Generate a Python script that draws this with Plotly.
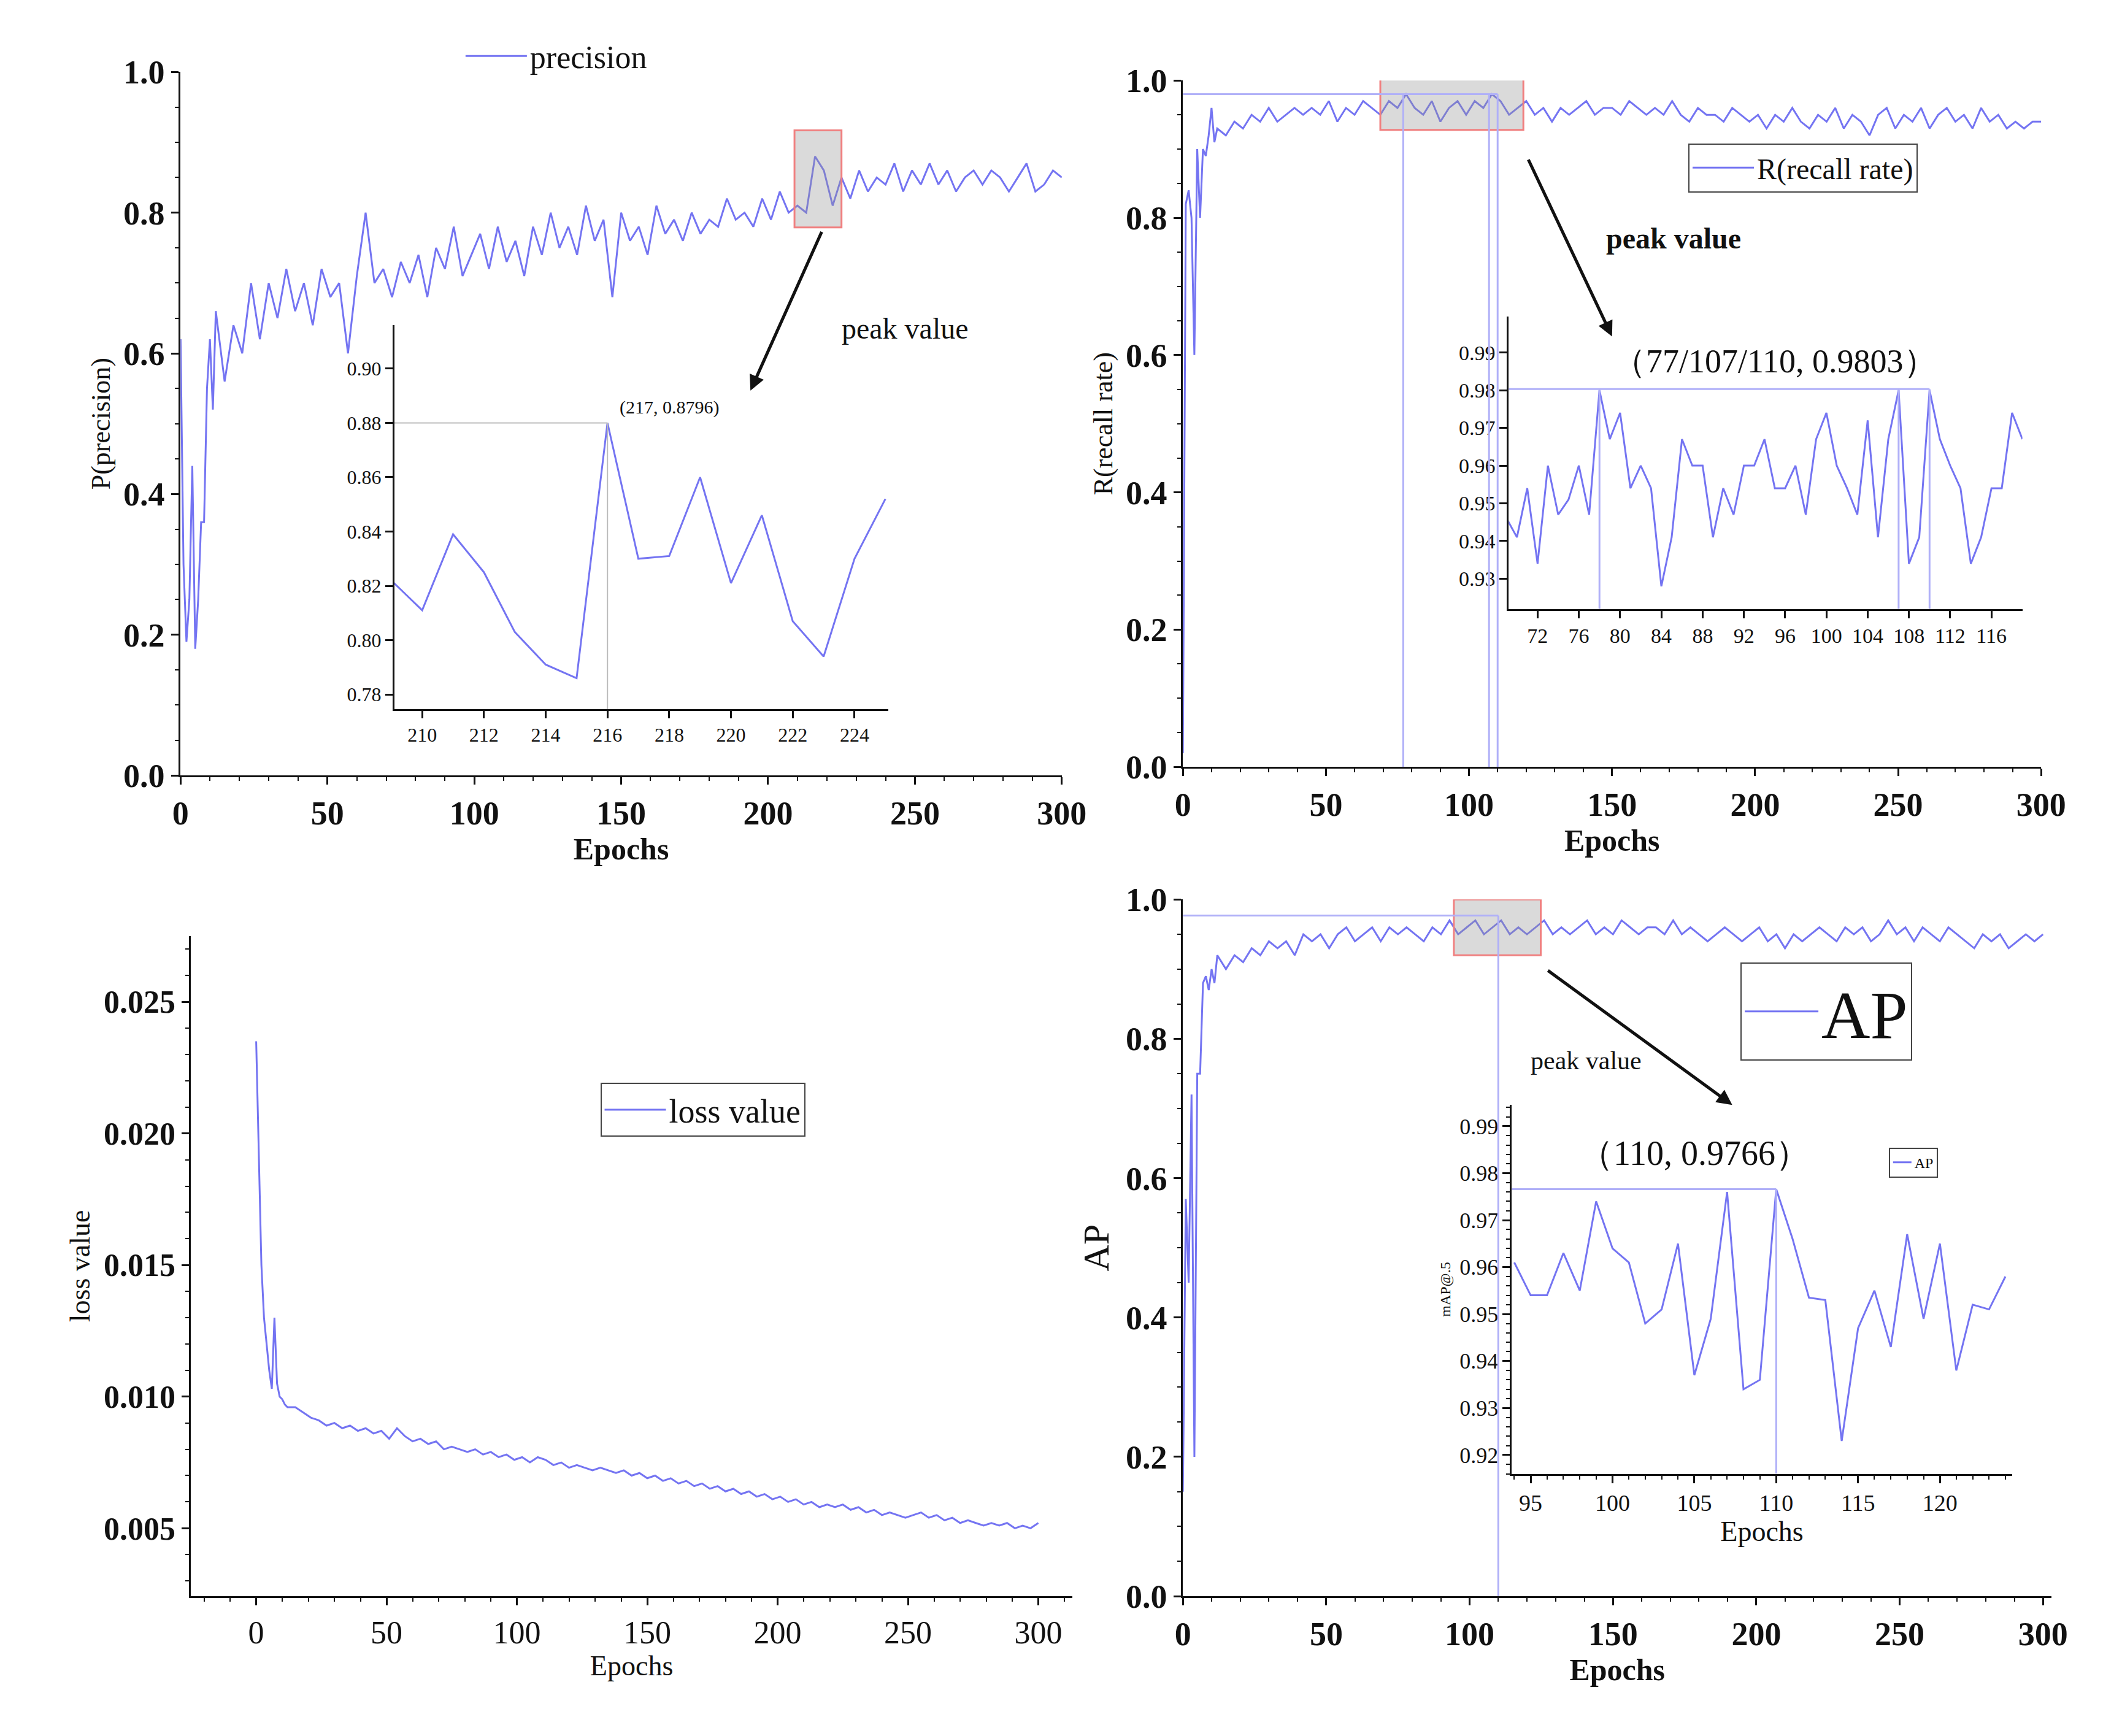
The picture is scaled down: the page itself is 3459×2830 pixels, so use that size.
import plotly.graph_objects as go

# epochs: dense at the start, then every 3 epochs
epochs = list(range(0, 13)) + list(range(15, 301, 3))

precision = [0.62, 0.30, 0.19, 0.25, 0.44, 0.18, 0.25, 0.36, 0.36, 0.55, 0.62, 0.52, 0.66,
             0.56, 0.64, 0.60, 0.70, 0.62, 0.70, 0.65, 0.72, 0.66, 0.70,
             0.64, 0.72, 0.68, 0.70, 0.60, 0.71, 0.80, 0.70, 0.72, 0.68,
             0.73, 0.70, 0.74, 0.68, 0.75, 0.72, 0.78, 0.71, 0.74, 0.77,
             0.72, 0.78, 0.73, 0.76, 0.71, 0.78, 0.74, 0.80, 0.75, 0.78,
             0.74, 0.81, 0.76, 0.79, 0.68, 0.80, 0.76, 0.78, 0.74, 0.81,
             0.77, 0.79, 0.76, 0.80, 0.77, 0.79, 0.78, 0.82, 0.79, 0.80,
             0.78, 0.82, 0.79, 0.83, 0.80, 0.81, 0.80, 0.88, 0.86, 0.81,
             0.85, 0.82, 0.86, 0.83, 0.85, 0.84, 0.87, 0.83, 0.86, 0.84,
             0.87, 0.84, 0.86, 0.83, 0.85, 0.86, 0.84, 0.86, 0.85, 0.83,
             0.85, 0.87, 0.83, 0.84, 0.86, 0.85]

recall = [0.02, 0.82, 0.84, 0.80, 0.60, 0.90, 0.80, 0.90, 0.89, 0.92, 0.96, 0.91, 0.93,
          0.92, 0.94, 0.93, 0.95, 0.94, 0.96, 0.94, 0.95, 0.96, 0.95,
          0.96, 0.95, 0.97, 0.94, 0.96, 0.95, 0.97, 0.96, 0.95, 0.97,
          0.96, 0.98, 0.96, 0.95, 0.97, 0.94, 0.96, 0.97, 0.95, 0.97,
          0.96, 0.98, 0.97, 0.95, 0.96, 0.97, 0.95, 0.96, 0.94, 0.96,
          0.95, 0.96, 0.97, 0.95, 0.96, 0.96, 0.95, 0.97, 0.96, 0.95,
          0.96, 0.95, 0.97, 0.95, 0.94, 0.96, 0.95, 0.95, 0.94, 0.96,
          0.95, 0.94, 0.95, 0.93, 0.95, 0.94, 0.96, 0.94, 0.93, 0.95,
          0.94, 0.96, 0.93, 0.95, 0.94, 0.92, 0.95, 0.96, 0.93, 0.95,
          0.94, 0.96, 0.93, 0.95, 0.96, 0.94, 0.95, 0.93, 0.96, 0.94,
          0.95, 0.93, 0.94, 0.93, 0.94, 0.94]

loss = [0.0235, 0.0190, 0.0150, 0.0130, 0.0120, 0.0110, 0.0103, 0.0130, 0.0105, 0.0100, 0.0099, 0.0097, 0.0096,
        0.0096, 0.0094, 0.0092, 0.0091, 0.0089, 0.0090, 0.0088, 0.0089, 0.0087, 0.0088,
        0.0086, 0.0087, 0.0084, 0.0088, 0.0085, 0.0083, 0.0084, 0.0082, 0.0083, 0.0080,
        0.0081, 0.0080, 0.0079, 0.0080, 0.0078, 0.0079, 0.0077, 0.0078, 0.0076, 0.0077,
        0.0075, 0.0077, 0.0076, 0.0074, 0.0075, 0.0073, 0.0074, 0.0073, 0.0072, 0.0073,
        0.0072, 0.0071, 0.0072, 0.0070, 0.0071, 0.0069, 0.0070, 0.0068, 0.0069, 0.0067,
        0.0068, 0.0066, 0.0067, 0.0065, 0.0066, 0.0064, 0.0065, 0.0063, 0.0064, 0.0062,
        0.0063, 0.0061, 0.0062, 0.0060, 0.0061, 0.0059, 0.0060, 0.0058, 0.0059, 0.0058,
        0.0059, 0.0057, 0.0058, 0.0056, 0.0057, 0.0055, 0.0056, 0.0055, 0.0054, 0.0055,
        0.0056, 0.0054, 0.0055, 0.0053, 0.0054, 0.0052, 0.0053, 0.0052, 0.0051, 0.0052,
        0.0051, 0.0052, 0.0050, 0.0051, 0.0050, 0.0052]

ap = [0.15, 0.57, 0.45, 0.72, 0.20, 0.75, 0.75, 0.88, 0.89, 0.87, 0.90, 0.88, 0.92,
      0.90, 0.92, 0.91, 0.93, 0.92, 0.94, 0.93, 0.94, 0.92, 0.95,
      0.94, 0.95, 0.93, 0.95, 0.96, 0.94, 0.95, 0.96, 0.94, 0.96,
      0.95, 0.96, 0.95, 0.94, 0.96, 0.95, 0.97, 0.95, 0.96, 0.97,
      0.95, 0.96, 0.97, 0.95, 0.96, 0.95, 0.96, 0.97, 0.95, 0.96,
      0.95, 0.96, 0.97, 0.95, 0.96, 0.95, 0.97, 0.96, 0.95, 0.96,
      0.96, 0.95, 0.97, 0.95, 0.96, 0.95, 0.94, 0.95, 0.96, 0.95,
      0.94, 0.95, 0.96, 0.94, 0.95, 0.93, 0.95, 0.94, 0.95, 0.96,
      0.95, 0.94, 0.96, 0.95, 0.96, 0.94, 0.95, 0.97, 0.95, 0.96,
      0.94, 0.96, 0.95, 0.94, 0.96, 0.95, 0.94, 0.93, 0.95, 0.94,
      0.95, 0.93, 0.94, 0.95, 0.94, 0.95]

# inset (zoomed) data
p_zoom_x = list(range(209, 226))
p_zoom_y = [0.822, 0.811, 0.839, 0.825, 0.803, 0.791, 0.786, 0.880, 0.830, 0.831,
            0.860, 0.821, 0.846, 0.807, 0.794, 0.830, 0.852]

r_zoom_x = list(range(69, 120))
r_zoom_y = [0.946, 0.941, 0.954, 0.934, 0.960, 0.947, 0.951, 0.960, 0.947, 0.980,
            0.967, 0.974, 0.954, 0.960, 0.954, 0.928, 0.941, 0.967, 0.960, 0.960,
            0.941, 0.954, 0.947, 0.960, 0.960, 0.967, 0.954, 0.954, 0.960, 0.947,
            0.967, 0.974, 0.960, 0.954, 0.947, 0.972, 0.941, 0.967, 0.980, 0.934,
            0.941, 0.980, 0.967, 0.960, 0.954, 0.934, 0.941, 0.954, 0.954, 0.974,
            0.967]

ap_zoom_x = list(range(94, 125))
ap_zoom_y = [0.961, 0.954, 0.954, 0.963, 0.955, 0.974, 0.964, 0.961, 0.948, 0.951,
             0.965, 0.937, 0.949, 0.976, 0.934, 0.936, 0.9766, 0.966, 0.9535, 0.953,
             0.923, 0.947, 0.955, 0.943, 0.967, 0.949, 0.965, 0.938, 0.952, 0.951,
             0.958]

LINE = "#7474f2"
SERIF = "Liberation Serif"
BLACK = "#111111"

fig = go.Figure()


def line(x, y, name, xa, ya, legend=None, show=True):
    fig.add_trace(go.Scatter(x=x, y=y, mode="lines", name=name, xaxis=xa, yaxis=ya,
                             line=dict(color=LINE, width=3), showlegend=show,
                             legend=legend))


line(epochs, precision, "precision", "x", "y", "legend")
line(epochs, recall, "R(recall rate)", "x2", "y2", "legend2")
line(epochs, loss, "loss value", "x3", "y3", "legend3")
line(epochs, ap, "AP", "x4", "y4", "legend4")
line(p_zoom_x, p_zoom_y, "p", "x5", "y5", show=False)
line(r_zoom_x, r_zoom_y, "r", "x6", "y6", show=False)
line(ap_zoom_x, ap_zoom_y, "AP", "x7", "y7", "legend5")


def axis(domain, rng, size, dtick=None, tick0=None, title=None, tsize=50,
         bold=True, tbold=True, fmt=None, anchor=None, minor=True):
    d = dict(domain=domain, range=rng, showgrid=False, zeroline=False,
             showline=True, linecolor=BLACK, linewidth=3, ticks="outside",
             ticklen=12, tickwidth=3, tickcolor=BLACK, mirror=False,
             tickfont=dict(family=SERIF, size=size, color=BLACK,
                           weight="bold" if tbold else "normal"),
             anchor=anchor)
    if dtick is not None:
        d["dtick"] = dtick
    if tick0 is not None:
        d["tick0"] = tick0
    if fmt:
        d["tickformat"] = fmt
    if minor:
        d["minor"] = dict(ticks="outside", ticklen=6, tickwidth=2, tickcolor=BLACK)
    if title:
        d["title"] = dict(text=title, standoff=8,
                          font=dict(family=SERIF, size=tsize, color=BLACK,
                                    weight="bold" if bold else "normal"))
    return d


fig.update_layout(
    width=3459, height=2830, margin=dict(l=0, r=0, t=0, b=0),
    paper_bgcolor="white", plot_bgcolor="white",
    xaxis=axis([0.080, 0.502], [0, 300], 54, 50, title="Epochs", anchor="y"),
    yaxis=axis([0.557, 0.971], [0, 1.0], 54, 0.2, fmt=".1f", title="P(precision)",
               tsize=44, bold=False, anchor="x"),
    xaxis2=axis([0.560, 0.971], [0, 300], 54, 50, title="Epochs", anchor="y2"),
    yaxis2=axis([0.562, 0.966], [0, 1.0], 54, 0.2, fmt=".1f", title="R(recall rate)",
                tsize=44, bold=False, anchor="x2"),
    xaxis3=axis([0.085, 0.507], [-25, 313], 52, 50, title="Epochs", bold=False,
                tbold=False, tsize=46, anchor="y3"),
    yaxis3=axis([0.074, 0.4625], [0.00242, 0.0275], 52, 0.005, tick0=0.005,
                fmt=".3f", title="loss value", tsize=46, bold=False, anchor="x3"),
    xaxis4=axis([0.560, 0.976], [0, 303], 54, 50, title="Epochs", anchor="y4"),
    yaxis4=axis([0.074, 0.484], [0, 1.0], 54, 0.2, fmt=".1f", title="AP",
                tsize=60, bold=False, anchor="x4"),
    xaxis5=axis([0.1824, 0.419], [209.1, 225.1], 32, 2, tbold=False, anchor="y5",
                minor=False),
    yaxis5=axis([0.596, 0.822], [0.7746, 0.916], 32, 0.02, fmt=".2f", tbold=False,
                anchor="x5", minor=False),
    xaxis6=axis([0.716, 0.962], [69.2, 119], 34, 4, tick0=72, tbold=False,
                anchor="y6", minor=False),
    yaxis6=axis([0.655, 0.827], [0.922, 0.9995], 34, 0.01, fmt=".2f", tbold=False,
                anchor="x6", minor=False),
    xaxis7=axis([0.7175, 0.957], [93.85, 124.4], 38, 5, tbold=False, bold=False,
                anchor="y7", title="Epochs", tsize=46),
    yaxis7=axis([0.146, 0.363], [0.916, 0.9945], 36, 0.01, fmt=".2f", tbold=False,
                bold=False, anchor="x7", title="mAP@.5", tsize=24),
    legend=dict(x=0.215, y=0.995, xanchor="left", yanchor="top", bgcolor="rgba(0,0,0,0)",
                itemwidth=100, font=dict(family=SERIF, size=52, color=BLACK)),
    legend2=dict(x=0.802, y=0.929, xanchor="left", yanchor="top", borderwidth=2,
                 itemwidth=100, bordercolor="#444",
                 font=dict(family=SERIF, size=48, color=BLACK)),
    legend3=dict(x=0.281, y=0.376, xanchor="left", yanchor="top", borderwidth=2,
                 itemwidth=100, bordercolor="#444",
                 font=dict(family=SERIF, size=54, color=BLACK)),
    legend4=dict(x=0.827, y=0.447, xanchor="left", yanchor="top", borderwidth=2,
                 bordercolor="#444", itemwidth=120,
                 font=dict(family=SERIF, size=110, color=BLACK)),
    legend5=dict(x=0.898, y=0.338, xanchor="left", yanchor="top", borderwidth=2,
                 bordercolor="#444", font=dict(family=SERIF, size=24, color=BLACK)),
)

GRAYLINE = dict(color="#bbbbbb", width=2)
REFLINE = dict(color="#b0b0f8", width=3)
shapes = [
    # zoom boxes on the main charts
    dict(type="rect", xref="x", yref="y", x0=209, x1=225, y0=0.779, y1=0.917,
         fillcolor="rgba(150,150,150,0.35)", line=dict(color="#f08080", width=3)),
    dict(type="rect", xref="x2", yref="y2", x0=69, x1=119, y0=0.928, y1=1.005,
         fillcolor="rgba(150,150,150,0.35)", line=dict(color="#f08080", width=3)),
    dict(type="rect", xref="x4", yref="y4", x0=94.5, x1=124.8, y0=0.92, y1=1.0,
         fillcolor="rgba(150,150,150,0.35)", line=dict(color="#f08080", width=3)),
    # peak markers on main charts
    dict(type="line", xref="x2", yref="y2", x0=0, x1=110, y0=0.98, y1=0.98, line=REFLINE),
    dict(type="line", xref="x4", yref="y4", x0=0, x1=110, y0=0.977, y1=0.977, line=REFLINE),
    dict(type="line", xref="x4", yref="y4", x0=110, x1=110, y0=0, y1=0.977, line=REFLINE),
    # peak markers in insets
    dict(type="line", xref="x5", yref="y5", x0=209.1, x1=216, y0=0.88, y1=0.88, line=GRAYLINE),
    dict(type="line", xref="x5", yref="y5", x0=216, x1=216, y0=0.7746, y1=0.88, line=GRAYLINE),
    dict(type="line", xref="x6", yref="y6", x0=69.2, x1=110, y0=0.9803, y1=0.9803, line=REFLINE),
    dict(type="line", xref="x7", yref="y7", x0=93.85, x1=110, y0=0.9766, y1=0.9766, line=REFLINE),
    dict(type="line", xref="x7", yref="y7", x0=110, x1=110, y0=0.916, y1=0.9766, line=REFLINE),
]
for e in (77, 107, 110):
    shapes.append(dict(type="line", xref="x2", yref="y2", x0=e, x1=e, y0=0, y1=0.98,
                       line=REFLINE))
for e in (78, 107, 110):
    shapes.append(dict(type="line", xref="x6", yref="y6", x0=e, x1=e, y0=0.922,
                       y1=0.9803, line=REFLINE))
fig.update_layout(shapes=shapes)

ann_font = dict(family=SERIF, color=BLACK)
annotations = [
    dict(xref="x", yref="y", axref="x", ayref="y", x=194, y=0.547, ax=218.4, ay=0.774,
         showarrow=True, arrowhead=2, arrowsize=1, arrowwidth=5, arrowcolor=BLACK, text=""),
    dict(xref="x2", yref="y2", axref="x2", ayref="y2", x=150, y=0.627, ax=120.6, ay=0.886,
         showarrow=True, arrowhead=2, arrowsize=1, arrowwidth=5, arrowcolor=BLACK, text=""),
    dict(xref="x4", yref="y4", axref="x4", ayref="y4", x=191.6, y=0.705, ax=127, ay=0.899,
         showarrow=True, arrowhead=2, arrowsize=1, arrowwidth=5, arrowcolor=BLACK, text=""),
    dict(xref="paper", yref="paper", x=0.427, y=0.820, text="peak value", showarrow=False,
         xanchor="center", yanchor="middle", font=dict(size=48, **ann_font)),
    dict(xref="paper", yref="paper", x=0.795, y=0.873, text="<b>peak value</b>",
         xanchor="center", yanchor="middle", showarrow=False, font=dict(size=48, **ann_font)),
    dict(xref="paper", yref="paper", x=0.753, y=0.389, text="peak value", showarrow=False,
         xanchor="center", yanchor="middle", font=dict(size=42, **ann_font)),
    dict(xref="x5", yref="y5", x=218, y=0.8815, text="(217, 0.8796)", showarrow=False,
         yanchor="bottom", font=dict(size=30, **ann_font)),
    dict(xref="x6", yref="y6", x=95, y=0.9825, text="（77/107/110, 0.9803）", showarrow=False,
         yanchor="bottom", font=dict(size=54, **ann_font)),
    dict(xref="x7", yref="y7", x=105, y=0.980, text="（110, 0.9766）", showarrow=False,
         yanchor="bottom", font=dict(size=56, **ann_font)),
]
fig.update_layout(annotations=annotations)

fig.write_html("out.html")
